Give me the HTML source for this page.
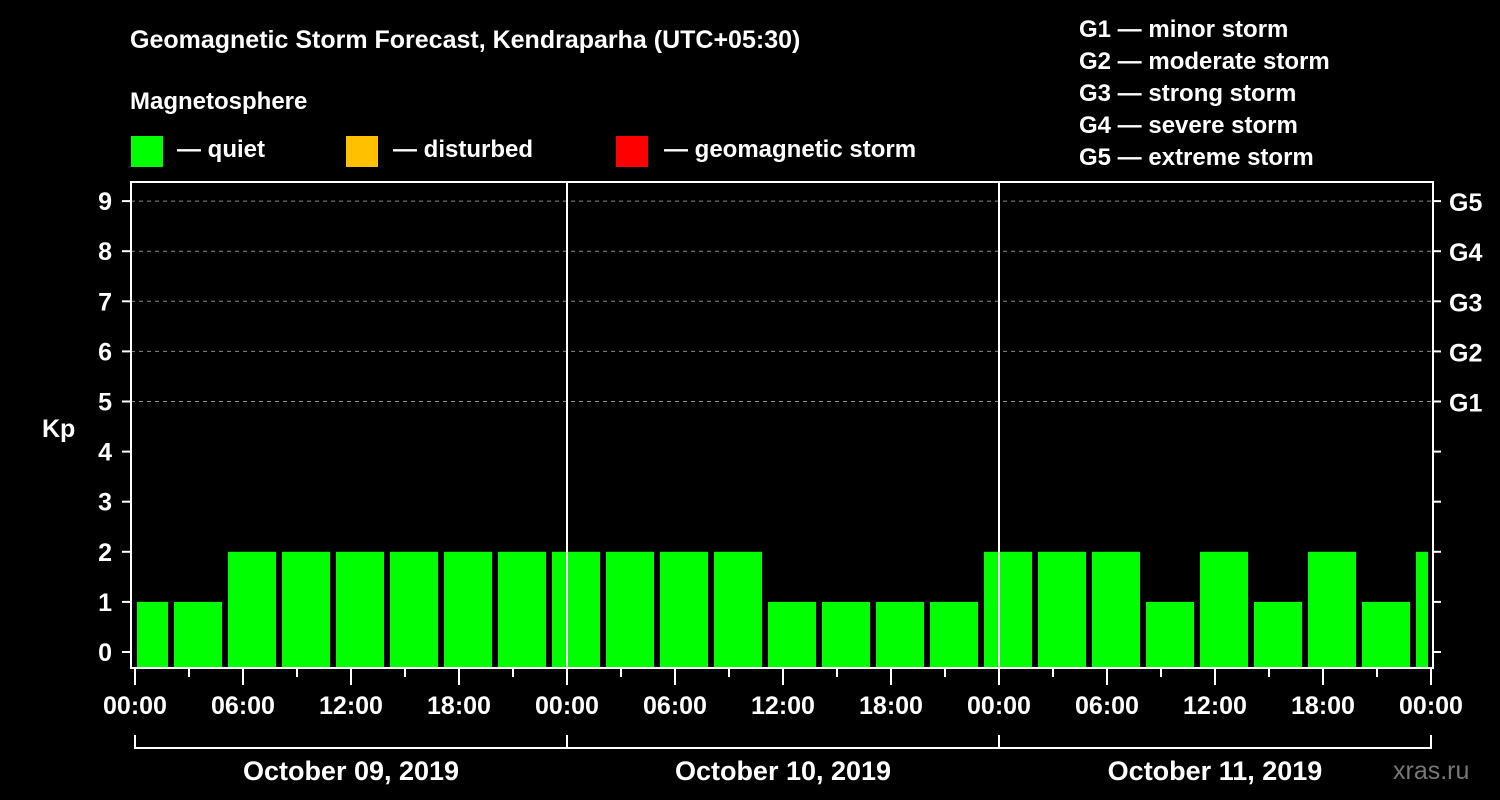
<!DOCTYPE html>
<html><head><meta charset="utf-8"><style>
body{margin:0;background:#000;}
svg{display:block;font-family:"Liberation Sans",Arial,sans-serif;font-weight:bold;}
</style></head><body>
<svg id="chart" width="1500" height="800" viewBox="0 0 1500 800">
<rect width="1500" height="800" fill="#000"/>
<text x="130" y="48" fill="#fff" font-size="25">Geomagnetic Storm Forecast, Kendraparha (UTC+05:30)</text>
<text x="130" y="109" fill="#fff" font-size="24">Magnetosphere</text>
<g><rect x="131" y="136" width="32" height="31" fill="#00ff00"/><text x="177" y="157" fill="#fff" font-size="24">— quiet</text></g>
<g><rect x="346" y="136" width="32" height="31" fill="#ffc000"/><text x="393" y="157" fill="#fff" font-size="24">— disturbed</text></g>
<g><rect x="616" y="136" width="32" height="31" fill="#ff0000"/><text x="664" y="157" fill="#fff" font-size="24">— geomagnetic storm</text></g>
<g fill="#fff" font-size="24">
<text x="1079" y="37">G1 — minor storm</text>
<text x="1079" y="69">G2 — moderate storm</text>
<text x="1079" y="101">G3 — strong storm</text>
<text x="1079" y="133">G4 — severe storm</text>
<text x="1079" y="165">G5 — extreme storm</text>
</g>
<text x="42" y="437" fill="#fff" font-size="25">Kp</text>
<g id="grid"></g><g id="bars"></g><g id="axes"></g>
<text x="1393" y="779" fill="#777" font-size="25" font-weight="normal">xras.ru</text>
</svg>
<script>
const kpValues=[1,1,2,2,2,2,2,2,2,2,2,2,1,1,1,1,2,2,2,1,2,1,2,1,2];
const startHours=[-1,2,5,8,11,14,17,20,23,26,29,32,35,38,41,44,47,50,53,56,59,62,65,68,71];
const yTicks=[0,1,2,3,4,5,6,7,8,9];
const gLabels=["G1","G2","G3","G4","G5"];
const gLevels=[5,6,7,8,9];
const xTickLabels=["00:00","06:00","12:00","18:00","00:00","06:00","12:00","18:00","00:00","06:00","12:00","18:00","00:00"];
const dayLabels=["October 09, 2019","October 10, 2019","October 11, 2019"];
const NS="http://www.w3.org/2000/svg";
const X0=135,PXH=18,Y0=652,PXK=50.1,L=131,R=1433,T=182,B=668;
const x=h=>X0+h*PXH, y=k=>Y0-k*PXK;
function mk(tag,attrs,parent,txt){const e=document.createElementNS(NS,tag);for(const k in attrs)e.setAttribute(k,attrs[k]);if(txt!==undefined)e.textContent=txt;parent.appendChild(e);return e;}
const grid=document.getElementById('grid'),bars=document.getElementById('bars'),axes=document.getElementById('axes');
gLevels.forEach(k=>{const l=mk('line',{x1:L,x2:R,y1:y(k),y2:y(k),stroke:'#888','stroke-dasharray':'4,4','stroke-width':1},grid);

});
kpValues.forEach((v,i)=>{let x1=Math.max(x(startHours[i])+3,L+6),x2=Math.min(x(startHours[i]+3)-3,R-5);
const r=mk('rect',{x:x1,y:y(v),width:x2-x1,height:B-1-y(v),fill:'#00ff00'},bars);

});
for(let d=1;d<3;d++){const l=mk('line',{x1:x(d*24),x2:x(d*24),y1:T,y2:B,stroke:'#fff','stroke-width':2},axes);

}
const fr=mk('rect',{x:L,y:T,width:R-L,height:B-T,fill:'none',stroke:'#fff','stroke-width':2},axes);


yTicks.forEach(k=>{mk('line',{x1:122,x2:L,y1:y(k),y2:y(k),stroke:'#fff','stroke-width':2},axes);
mk('line',{x1:R,x2:1441,y1:y(k),y2:y(k),stroke:'#fff','stroke-width':2},axes);
const t=mk('text',{x:112,y:y(k)+9,fill:'#fff','font-size':25,'text-anchor':'end'},axes,k);

});
gLabels.forEach((g,i)=>{const t=mk('text',{x:1449,y:y(gLevels[i])+10,fill:'#fff','font-size':25},axes,g);

});
for(let h=0;h<=72;h+=3){const maj=h%6===0;mk('line',{x1:x(h),x2:x(h),y1:B,y2:maj?685:677,stroke:'#fff','stroke-width':2},axes);}
xTickLabels.forEach((s,i)=>{const t=mk('text',{x:x(i*6),y:714,fill:'#fff','font-size':25,'text-anchor':'middle'},axes,s);

});
mk('path',{d:`M${x(0)} 735V748H${x(72)}V735M${x(24)} 735V748M${x(48)} 735V748`,stroke:'#fff','stroke-width':2,fill:'none'},axes);
dayLabels.forEach((s,i)=>{const t=mk('text',{x:x(i*24+12),y:780,fill:'#fff','font-size':27,'text-anchor':'middle'},axes,s);

});
</script>
</body></html>
